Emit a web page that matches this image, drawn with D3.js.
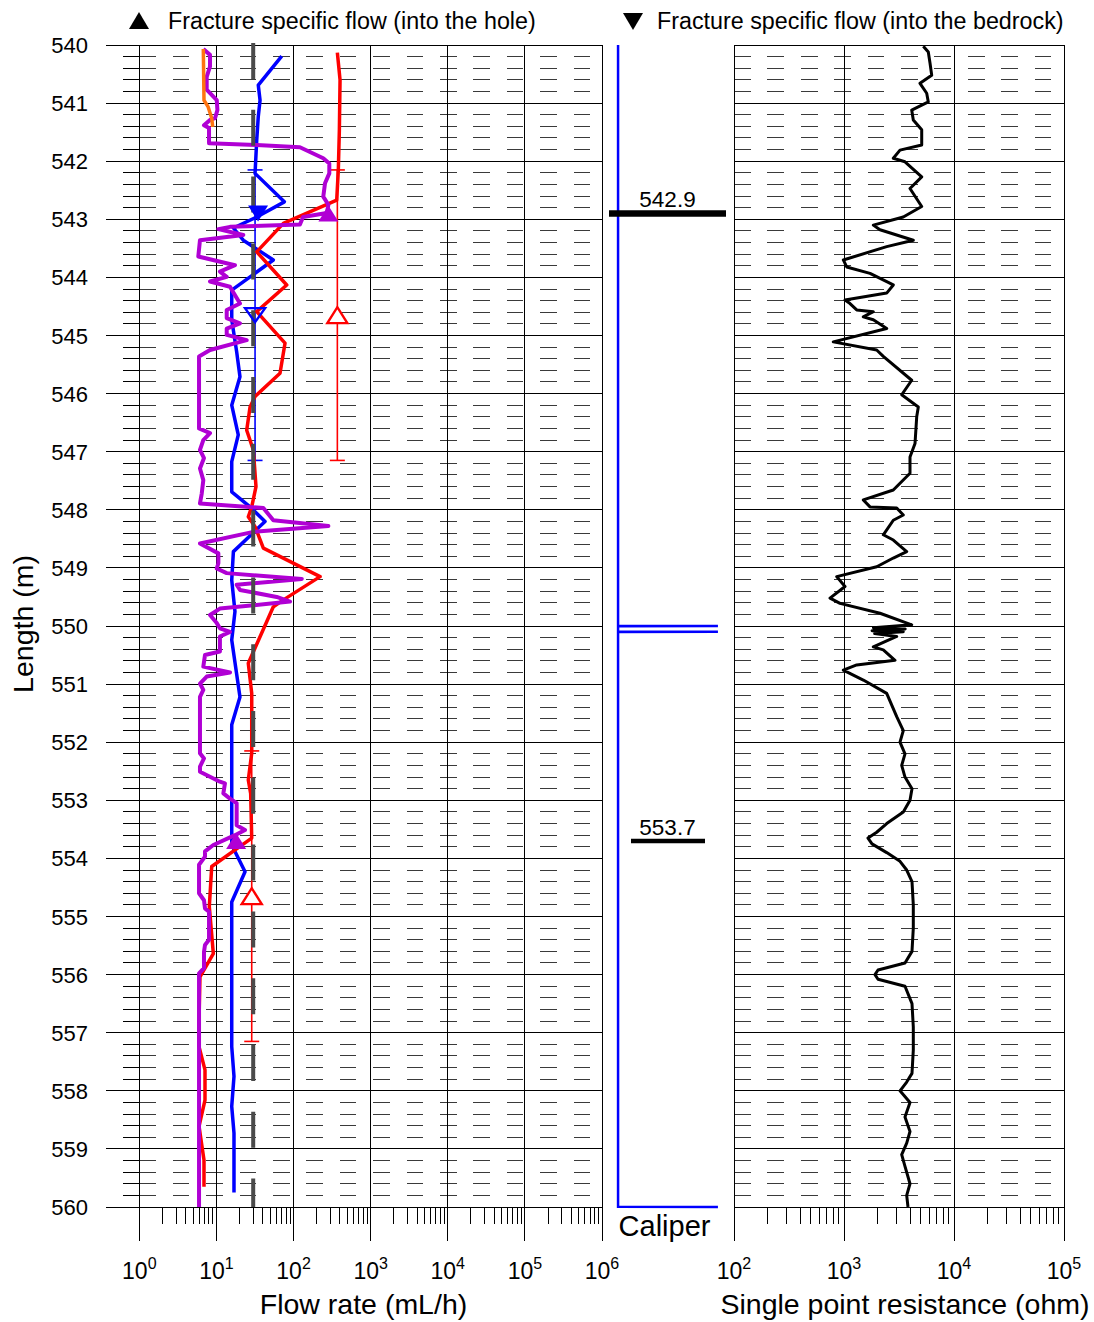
<!DOCTYPE html>
<html><head><meta charset="utf-8">
<script src="https://cdn.jsdelivr.net/npm/d3@7"></script>
<style>
body{margin:0;background:#fff}
svg{display:block}
text{font-family:"Liberation Sans",Arial,sans-serif;fill:#000}
</style>
</head><body>
<svg id="c" width="1094" height="1322"></svg>
<script>
// ---------------- DATA ----------------
const depthLabels = [540,541,542,543,544,545,546,547,548,549,550,551,552,553,554,555,556,557,558,559,560];
const flowTicks = [1,10,100,1000,10000,100000,1000000];
const flowExp = ["0","1","2","3","4","5","6"];
const resTicks = [100,1000,10000,100000];
const resExp = ["2","3","4","5"];

// [depth m, flow mL/h]
const orangeFlow = [[540.07,6.76],[540.95,6.90],[541.06,7.78],[541.26,8.69],[541.41,8.95]];
const purpleFlow = [[540.07,6.76],[540.17,8.26],[540.37,8.26],[540.55,7.48],[540.77,7.48],[540.95,10.1],[541.12,10.3],[541.26,9.59],[541.29,8.26],[541.38,6.90],[541.43,8.02],[541.69,8.02],[541.72,33.3],[541.76,121],[541.95,243],[542.04,291],[542.21,291],[542.38,256],[542.61,243],[542.75,283],[542.89,270],[542.96,133],[543.09,121],[543.13,15.0],[543.17,10.6],[543.27,22.3],[543.36,6.12],[543.64,5.82],[543.79,17.4],[543.90,11.1],[543.99,13.6],[544.07,8.26],[544.16,15.0],[544.45,20.2],[544.56,13.6],[544.70,13.6],[544.79,20.2],[544.88,13.6],[544.99,13.6],[545.08,24.7],[545.25,8.26],[545.36,5.95],[546.60,5.95],[546.68,8.26],[546.80,6.76],[546.97,6.12],[547.11,6.90],[547.29,6.12],[547.49,6.76],[547.72,6.45],[547.89,6.12],[547.97,40.6],[548.18,54.7],[548.28,283],[548.38,30.1],[548.58,6.12],[548.75,10.6],[548.92,10.6],[549.01,10.1],[549.09,13.6],[549.19,128],[549.29,18.3],[549.38,20.2],[549.50,60.5],[549.58,90.1],[549.70,11.1],[549.81,8.26],[549.95,10.1],[550.04,11.1],[550.10,15.0],[550.18,11.1],[550.44,11.1],[550.50,7.11],[550.70,6.76],[550.80,15.0],[550.87,7.48],[550.99,6.12],[551.10,6.76],[551.22,6.12],[552.19,6.12],[552.28,6.90],[552.42,6.12],[552.51,6.12],[552.68,11.1],[552.71,12.9],[552.88,12.3],[552.97,15.0],[553.05,18.3],[553.43,18.3],[553.51,23.5],[553.60,17.4],[553.77,9.12],[553.88,7.11],[553.97,7.11],[554.11,5.95],[554.60,5.95],[554.72,6.90],[554.86,7.11],[554.92,8.02],[555.40,8.02],[555.49,7.11],[555.61,6.90],[555.89,6.90],[555.98,5.95],[560.0,5.95]];
const blueFlow = [[540.19,70.3],[540.69,34.9],[540.95,36.8],[541.23,34.9],[541.64,33.3],[542.21,31.7],[542.70,76.0],[542.96,33.3],[543.15,16.6],[543.36,22.3],[543.70,54.7],[544.22,15.8],[544.73,15.8],[545.28,18.3],[545.71,20.2],[546.20,15.8],[546.71,19.2],[547.17,15.8],[547.69,15.8],[547.95,27.3],[548.20,42.7],[548.72,16.6],[549.21,15.8],[549.75,17.4],[550.24,15.8],[551.22,20.2],[551.70,15.8],[553.77,15.8],[554.23,23.5],[554.75,15.8],[557.24,15.8],[557.75,16.9],[558.27,15.8],[558.73,16.9],[559.75,16.9]];
const redFlow = [[540.13,370],[540.60,401],[541.46,393],[542.15,381],[542.67,363],[543.07,73.8],[543.56,33.3],[544.13,81.6],[544.59,33.3],[545.13,77.6],[545.65,66.8],[546.05,31.7],[546.23,27.3],[546.63,24.7],[546.97,30.1],[547.60,32.6],[547.95,28.7],[548.12,25.9],[548.29,31.7],[548.66,40.6],[549.15,221],[549.55,73.8],[549.67,54.7],[550.64,25.9],[551.16,28.7],[552.19,28.7],[552.65,25.9],[552.88,27.8],[553.65,28.7],[554.14,8.69],[554.83,8.09],[555.64,9.12],[556.04,6.12],[556.78,5.95],[557.24,5.95],[557.64,7.11],[558.16,7.11],[558.61,5.95],[559.19,6.90],[559.65,6.90]];
const limitFlow = 30;          // gray dashed lower limit (mL/h)

// fracture specific flow markers
const filledUp   = [[542.9,283],[553.7,18.0]];     // purple, into the hole
const filledDown = [[542.9,34.7]];                 // blue, into the bedrock
const openUp     = [[544.65,370],[554.65,28.7]];   // red, open
const openDown   = [[544.65,31.7]];                // blue, open
// error bars [depth top, depth bottom, flow, colour]
const errorBars = [[542.15,547.15,370,"red"],[542.15,547.15,31.7,"blue"],[552.15,557.15,28.7,"red"]];

// caliper [depth, mm]
const caliper = [[540,76.2],[549.995,76.2],[550.0,78.5],[550.005,76.2],[550.095,76.2],[550.1,78.5],[550.105,76.2],[559.995,76.2],[560,78.5]];
const fractures = [{depth:542.9,label:"542.9",x0:609,x1:726,w:6.5},{depth:553.7,label:"553.7",x0:631,x1:705,w:4.5}];

// single point resistance [depth, ohm]
const resistance = [[540.02,5259],[540.12,5840],[540.31,6051],[540.52,6271],[540.66,4909],[540.83,5647],[540.98,5840],[541.12,4126],[541.29,4266],[541.46,5087],[541.72,5087],[541.81,3229],[541.95,2807],[542.01,3585],[542.27,5087],[542.47,3981],[542.78,5087],[542.96,3460],[543.10,1847],[543.18,2125],[543.36,4266],[543.47,2444],[543.70,986],[543.82,1058],[543.93,1724],[544.13,2807],[544.27,2444],[544.39,1021],[544.45,1134],[544.56,1305],[544.59,1847],[544.68,1498],[544.73,1847],[544.88,2444],[545.11,799],[545.25,1983],[545.36,2277],[545.77,4126],[546.02,3346],[546.23,4737],[546.40,4581],[546.86,4421],[547.09,3981],[547.37,3981],[547.66,2807],[547.83,1498],[547.95,1724],[547.97,3014],[548.09,3460],[548.18,2807],[548.43,2277],[548.52,2807],[548.72,3715],[548.83,2807],[548.98,1983],[549.15,858],[549.32,1021],[549.52,746],[549.61,920],[549.78,2125],[549.98,4126],[550.03,1850],[550.05,3600],[550.08,1800],[550.10,3460],[550.13,1900],[550.18,3014],[550.36,1847],[550.41,2277],[550.59,2908],[550.67,1305],[550.76,986],[550.93,1498],[551.16,2444],[551.56,3014],[551.8,3460],[552.0,3229],[552.2,3585],[552.4,3346],[552.6,3585],[552.8,4151],[553.0,3981],[553.2,3460],[553.4,2444],[553.55,1983],[553.65,1653],[553.75,1797],[553.9,2444],[554.05,3229],[554.2,3715],[554.4,4151],[554.8,4266],[555.2,4266],[555.6,4151],[555.8,3585],[555.92,2038],[556.0,1913],[556.08,2038],[556.2,3585],[556.5,4151],[556.9,4266],[557.3,4266],[557.7,4151],[557.85,3715],[558.0,3229],[558.2,3981],[558.45,3585],[558.7,3981],[558.9,3715],[559.1,3346],[559.3,3585],[559.6,3981],[559.8,3715],[560.0,3818]];

// ---------------- DRAW ----------------
const svg = d3.select("#c");
const y  = d3.scaleLinear().domain([540,560]).range([45,1207]);
const xF = d3.scaleLog().domain([1,1e6]).range([139.3,602]);
const xR = d3.scaleLog().domain([100,1e5]).range([734,1064]);
const xC = d3.scaleLinear().domain([75.83,78.87]).range([602,734]);

const minorDepths = d3.range(1,100).map(i=>540+i*0.2).filter(d=>Math.abs(d-Math.round(d))>1e-6);

function drawPanel(x, decades, outerLeft){
  const [x0,x1] = x.range();
  const g = svg.append("g").attr("shape-rendering","crispEdges");
  g.selectAll(null).data(minorDepths).join("line")
    .attr("x1",x0).attr("x2",x1).attr("y1",d=>y(d)).attr("y2",d=>y(d))
    .attr("stroke","#3a3a3a").attr("stroke-dasharray","16.7,16.7");
  if(outerLeft){
    g.selectAll(null).data(minorDepths).join("line")
      .attr("x1",x0-16.5).attr("x2",x0).attr("y1",d=>y(d)).attr("y2",d=>y(d)).attr("stroke","#000");
  }
  g.selectAll(null).data(depthLabels).join("line")
    .attr("x1",outerLeft? x0-33.5 : x0).attr("x2",x1).attr("y1",d=>y(d)).attr("y2",d=>y(d))
    .attr("stroke","#000");
  const minorX=[];
  decades.slice(0,-1).forEach(v=>{for(let m=2;m<10;m++) minorX.push(v*m);});
  g.selectAll(null).data(minorX).join("line")
    .attr("x1",d=>x(d)).attr("x2",d=>x(d)).attr("y1",y(560)).attr("y2",y(560)+16.5).attr("stroke","#000");
  g.selectAll(null).data(decades).join("line")
    .attr("x1",d=>x(d)).attr("x2",d=>x(d)).attr("y1",y(540)).attr("y2",y(560)+34)
    .attr("stroke","#000");
}
drawPanel(xF, flowTicks, true);
drawPanel(xR, resTicks, false);

svg.append("g").selectAll(null).data(depthLabels).join("text")
  .attr("x",88).attr("y",d=>y(d)+8).attr("text-anchor","end").attr("font-size",22).text(d=>d);

function expLabels(x, ticks, exps){
  const t = svg.append("g").selectAll(null).data(ticks).join("text")
    .attr("x",d=>x(d)).attr("y",1279).attr("text-anchor","middle").attr("font-size",23);
  t.append("tspan").text("10");
  t.append("tspan").attr("dy",-10).attr("font-size",16).text((d,i)=>exps[i]);
}
expLabels(xF, flowTicks, flowExp);
expLabels(xR, resTicks, resExp);

svg.append("text").attr("x",363.5).attr("y",1314).attr("text-anchor","middle").attr("font-size",28.5).text("Flow rate (mL/h)");
svg.append("text").attr("x",905).attr("y",1314).attr("text-anchor","middle").attr("font-size",28.5).text("Single point resistance (ohm)");
svg.append("text").attr("x",664.5).attr("y",1236).attr("text-anchor","middle").attr("font-size",29).text("Caliper");
svg.append("text").attr("transform","translate(33,624) rotate(-90)").attr("text-anchor","middle").attr("font-size",28.5).text("Length (m)");

function tri(cx,cy,w,h,up){
  return up ? `M${cx-w/2},${cy+h/2}L${cx+w/2},${cy+h/2}L${cx},${cy-h/2}Z`
            : `M${cx-w/2},${cy-h/2}L${cx+w/2},${cy-h/2}L${cx},${cy+h/2}Z`;
}
svg.append("path").attr("d",tri(139,20.5,20,17,true)).attr("fill","#000");
svg.append("text").attr("x",168).attr("y",29).attr("font-size",23.3).text("Fracture specific flow (into the hole)");
svg.append("path").attr("d",tri(633,21.5,20,17,false)).attr("fill","#000");
svg.append("text").attr("x",657).attr("y",29).attr("font-size",23.3).text("Fracture specific flow (into the bedrock)");

const lineF = d3.line().x(d=>xF(d[1])).y(d=>y(d[0]));
const lf = svg.append("g").attr("fill","none").attr("stroke-linejoin","round");
errorBars.forEach(e=>{
  const xx = xF(e[2]);
  lf.append("line").attr("x1",xx).attr("x2",xx).attr("y1",y(e[0])).attr("y2",y(e[1])).attr("stroke",e[3]).attr("stroke-width",1.6);
  [e[0],e[1]].forEach(dd=>lf.append("line").attr("x1",xx-7.5).attr("x2",xx+7.5).attr("y1",y(dd)).attr("y2",y(dd)).attr("stroke",e[3]).attr("stroke-width",1.6));
});
lf.append("path").datum(blueFlow).attr("d",lineF).attr("stroke","#0000ff").attr("stroke-width",3.5);
lf.append("path").datum(redFlow).attr("d",lineF).attr("stroke","#ff0000").attr("stroke-width",3.5);
lf.append("path").datum(purpleFlow).attr("d",lineF).attr("stroke","#b000d4").attr("stroke-width",4);
lf.append("path").datum(orangeFlow).attr("d",lineF).attr("stroke","#ff7410").attr("stroke-width",3.5);
lf.append("line").attr("x1",xF(limitFlow)).attr("x2",xF(limitFlow)).attr("y1",43).attr("y2",y(560))
  .attr("stroke","#4a4a4a").attr("stroke-width",4).attr("stroke-dasharray","36,30.8");

const mk = svg.append("g");
filledUp.forEach(p=>mk.append("path").attr("d",tri(xF(p[1]),y(p[0]),20,16,true)).attr("fill","#b000d4"));
filledDown.forEach(p=>mk.append("path").attr("d",tri(xF(p[1]),y(p[0]),20,16,false)).attr("fill","#0000ff"));
openUp.forEach(p=>mk.append("path").attr("d",tri(xF(p[1]),y(p[0]),20,16,true)).attr("fill","#fff").attr("stroke","#ff0000").attr("stroke-width",2.4));
openDown.forEach(p=>mk.append("path").attr("d",tri(xF(p[1]),y(p[0]),20,14,false)).attr("fill","none").attr("stroke","#0000ff").attr("stroke-width",2.4));

svg.append("path").datum(caliper).attr("d",d3.line().x(d=>xC(d[1])).y(d=>y(d[0])))
  .attr("fill","none").attr("stroke","#0000ff").attr("stroke-width",2.5);
fractures.forEach(f=>{
  svg.append("line").attr("x1",f.x0).attr("x2",f.x1).attr("y1",y(f.depth)).attr("y2",y(f.depth)).attr("stroke","#000").attr("stroke-width",f.w);
  svg.append("text").attr("x",667.5).attr("y",y(f.depth)-6).attr("text-anchor","middle").attr("font-size",22.5).text(f.label);
});

svg.append("path").datum(resistance).attr("d",d3.line().x(d=>xR(d[1])).y(d=>y(d[0])))
  .attr("fill","none").attr("stroke","#000").attr("stroke-width",3).attr("stroke-linejoin","round");
</script>
</body></html>
